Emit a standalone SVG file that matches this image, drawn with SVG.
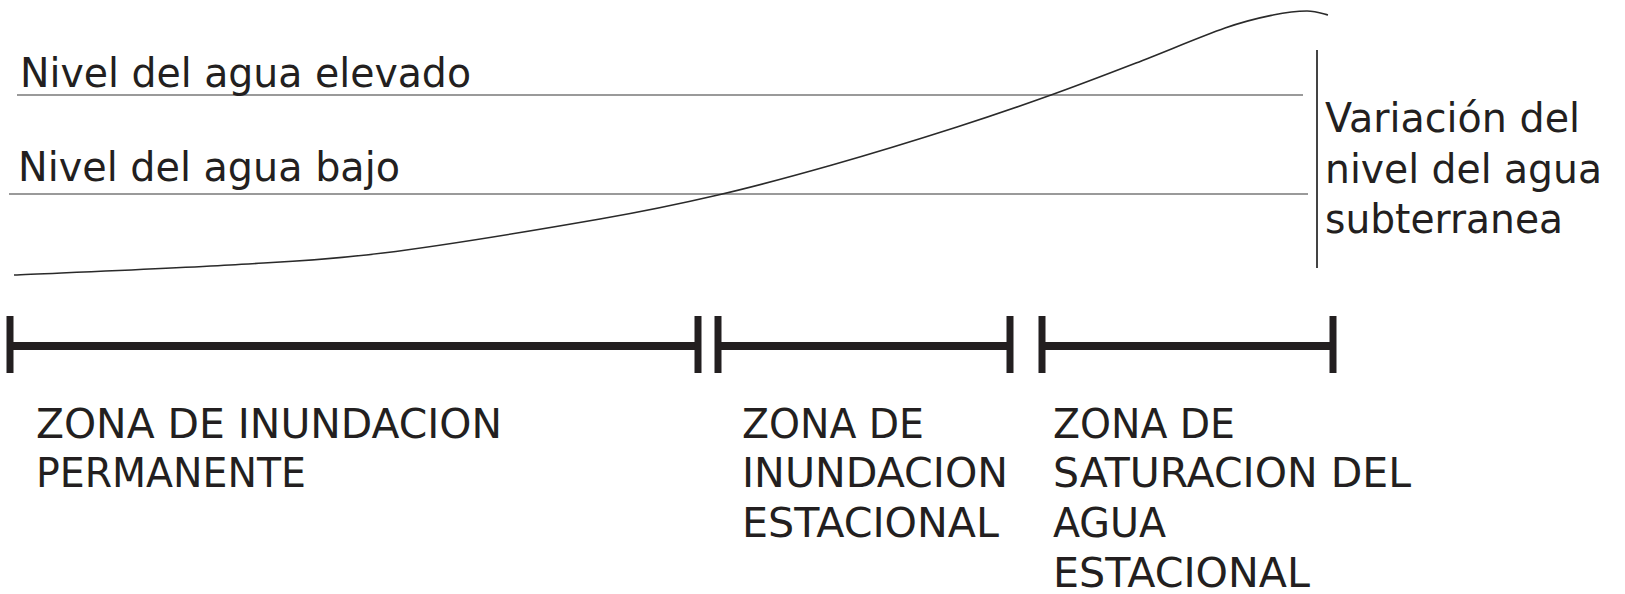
<svg xmlns="http://www.w3.org/2000/svg" width="1625" height="594" viewBox="0 0 1625 594">
<style>
.t{font-family:"DejaVu Sans","Verdana",sans-serif;font-size:40px;fill:#231f20}
.z{font-family:"DejaVu Sans","Verdana",sans-serif;font-size:41px;fill:#231f20}
.lvl{stroke:#9a9a9a;stroke-width:2;fill:none}
.bar{stroke:#231f20;stroke-width:8;fill:none}
.tick{stroke:#231f20;stroke-width:7;fill:none}
</style>
<rect width="1625" height="594" fill="#ffffff"/>
<g id="levels">
<line class="lvl" x1="17" y1="95" x2="1303" y2="95"/>
<line class="lvl" x1="9" y1="194" x2="1308" y2="194" stroke="#8a8a8a"/>
<text class="t" x="20" y="87" textLength="451" lengthAdjust="spacingAndGlyphs">Nivel del agua elevado</text>
<text class="t" x="18" y="181" textLength="382" lengthAdjust="spacingAndGlyphs">Nivel del agua bajo</text>
</g>
<g id="curve">
<path d="M14,275 C50,273.3 168.5,268.7 230,265 C291.5,261.3 321.3,260.7 383,253 C444.7,245.3 544.2,228.7 600,219 C655.8,209.3 679.3,204 718,195 C756.7,186 792.2,176.3 832,165 C871.8,153.7 920.5,138.7 957,127 C993.5,115.3 1021.2,105.7 1051,95 C1080.8,84.3 1107,74.2 1136,63 C1165,51.8 1202.2,36 1225,28 C1247.8,20 1259.3,17.8 1273,15 C1286.7,12.2 1297.8,11 1307,11 C1316.2,11 1324.5,14.3 1328,15" fill="none" stroke="#2a2a2a" stroke-width="1.6"/>
</g>
<g id="variation">
<line x1="1317" y1="50" x2="1317" y2="268" stroke="#444" stroke-width="2"/>
<text class="t" x="1325" y="132" textLength="255" lengthAdjust="spacingAndGlyphs">Variación del</text>
<text class="t" x="1325" y="183" textLength="277" lengthAdjust="spacingAndGlyphs">nivel del agua</text>
<text class="t" x="1325" y="233" textLength="238" lengthAdjust="spacingAndGlyphs">subterranea</text>
</g>
<g id="zone1">
<line class="tick" x1="10" y1="316" x2="10" y2="373"/>
<line class="bar" x1="10" y1="346" x2="698" y2="346"/>
<line class="tick" x1="698" y1="316" x2="698" y2="373"/>
<text class="z" x="36" y="438" textLength="466" lengthAdjust="spacingAndGlyphs">ZONA DE INUNDACION</text>
<text class="z" x="36" y="487" textLength="270" lengthAdjust="spacingAndGlyphs">PERMANENTE</text>
</g>
<g id="zone2">
<line class="tick" x1="718" y1="316" x2="718" y2="373"/>
<line class="bar" x1="718" y1="346" x2="1010" y2="346"/>
<line class="tick" x1="1010" y1="316" x2="1010" y2="373"/>
<text class="z" x="742" y="438" textLength="182" lengthAdjust="spacingAndGlyphs">ZONA DE</text>
<text class="z" x="742" y="487" textLength="266" lengthAdjust="spacingAndGlyphs">INUNDACION</text>
<text class="z" x="742" y="537" textLength="257" lengthAdjust="spacingAndGlyphs">ESTACIONAL</text>
</g>
<g id="zone3">
<line class="tick" x1="1042" y1="316" x2="1042" y2="373"/>
<line class="bar" x1="1042" y1="346" x2="1333" y2="346"/>
<line class="tick" x1="1333" y1="316" x2="1333" y2="373"/>
<text class="z" x="1053" y="438" textLength="182" lengthAdjust="spacingAndGlyphs">ZONA DE</text>
<text class="z" x="1053" y="487" textLength="358" lengthAdjust="spacingAndGlyphs">SATURACION DEL</text>
<text class="z" x="1053" y="537" textLength="113" lengthAdjust="spacingAndGlyphs">AGUA</text>
<text class="z" x="1053" y="587" textLength="257" lengthAdjust="spacingAndGlyphs">ESTACIONAL</text>
</g>
</svg>
